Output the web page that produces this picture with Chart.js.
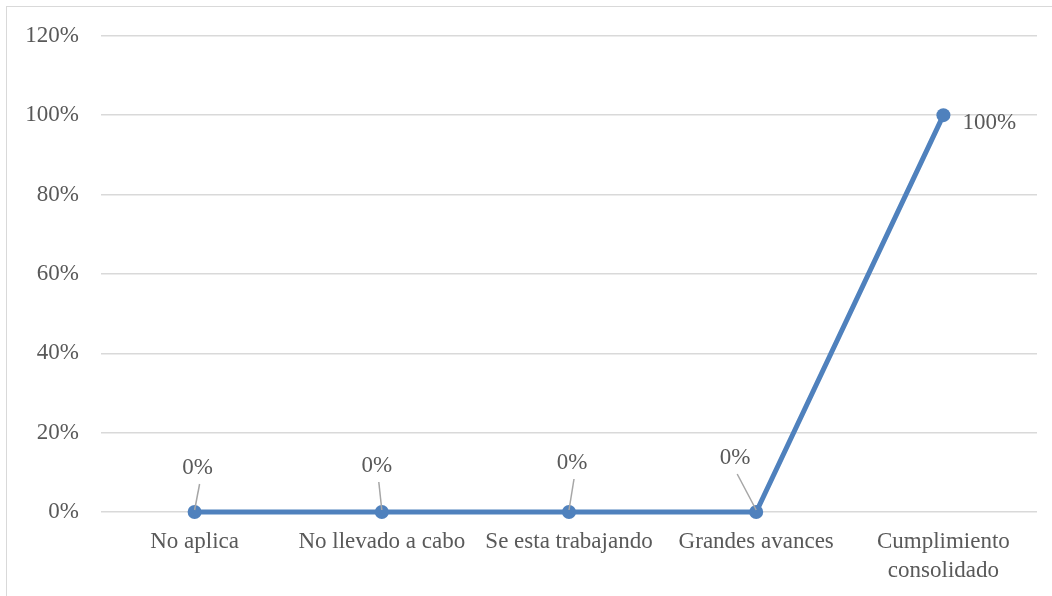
<!DOCTYPE html>
<html>
<head>
<meta charset="utf-8">
<script src="https://cdn.jsdelivr.net/npm/chart.js@4/dist/chart.umd.min.js"></script>
<style>
    html, body { margin: 0; padding: 0; background: #ffffff; }
    #wrap { position: relative; width: 1052px; height: 596px; overflow: hidden; }
    #frame { position: absolute; left: 6px; top: 6px; width: 1050px; height: 600px; border: 1px solid #d9d9d9; box-sizing: border-box; }
    canvas { position: absolute; left: 0; top: 0; }
</style>
</head>
<body>
<div id="wrap">
    <div id="frame"></div>
    <canvas id="lineChart" width="1052" height="596"></canvas>
</div>
<script>
// Chart data
const categories = ['No aplica', 'No llevado a cabo', 'Se esta trabajando', 'Grandes avances', ['Cumplimiento', 'consolidado']];
const values = [0, 0, 0, 0, 100];
const yTicks = [0, 20, 40, 60, 80, 100, 120];

// Where each data label sits relative to its point (px)
const labelOffsets = [
    { dx: 3, dy: -44, leader: true },
    { dx: -5, dy: -46, leader: true },
    { dx: 3, dy: -49, leader: true },
    { dx: -21, dy: -54, leader: true },
    { dx: 46, dy: 8, leader: false }
];

const textColor = '#595959';
const fontFamily = '"Liberation Serif", "Times New Roman", serif';

// Draws value labels with small leader lines, like the spreadsheet chart
const dataLabels = {
    id: 'dataLabels',
    afterDatasetsDraw(chart) {
        const ctx = chart.ctx;
        const meta = chart.getDatasetMeta(0);
        ctx.save();
        ctx.font = '23px ' + fontFamily;
        ctx.textAlign = 'center';
        ctx.textBaseline = 'middle';
        meta.data.forEach((pt, i) => {
            const off = labelOffsets[i];
            const lx = pt.x + off.dx;
            const ly = pt.y + off.dy;
            if (off.leader) {
                ctx.strokeStyle = '#a6a6a6';
                ctx.lineWidth = 1.5;
                ctx.beginPath();
                ctx.moveTo(pt.x, pt.y - 2);
                ctx.lineTo(lx + 2, ly + 16);
                ctx.stroke();
            }
            ctx.fillStyle = textColor;
            ctx.fillText(values[i] + '%', lx, ly);
        });
        ctx.restore();
    }
};

document.addEventListener('DOMContentLoaded', function() {
    const ctx = document.getElementById('lineChart');
    new Chart(ctx, {
        type: 'line',
        data: {
            labels: categories,
            datasets: [{
                data: values,
                borderColor: '#4f81bd',
                backgroundColor: '#4f81bd',
                borderWidth: 5,
                pointRadius: 7,
                pointHoverRadius: 7,
                pointBorderWidth: 0,
                tension: 0,
                clip: false
            }]
        },
        options: {
            responsive: false,
            animation: false,
            layout: {
                padding: { top: 35, right: 15, bottom: 0, left: 0 }
            },
            scales: {
                x: {
                    offset: true,
                    grid: { display: false, drawTicks: false },
                    border: { display: false },
                    ticks: {
                        color: textColor,
                        font: { family: fontFamily, size: 23, lineHeight: 1.25 },
                        padding: 16,
                        maxRotation: 0,
                        autoSkip: false
                    },
                    afterFit(scale) { scale.height = 84; }
                },
                y: {
                    min: 0,
                    max: 120,
                    afterBuildTicks(scale) {
                        scale.ticks = yTicks.map(v => ({ value: v }));
                    },
                    grid: { color: '#d9d9d9', lineWidth: 1.5, drawTicks: false },
                    border: { display: false },
                    ticks: {
                        color: textColor,
                        font: { family: fontFamily, size: 23 },
                        padding: 22,
                        callback: v => v + '%'
                    },
                    afterFit(scale) { scale.width = 101; }
                }
            },
            plugins: {
                legend: { display: false },
                tooltip: { enabled: false }
            }
        },
        plugins: [dataLabels]
    });
});
</script>
</body>
</html>
